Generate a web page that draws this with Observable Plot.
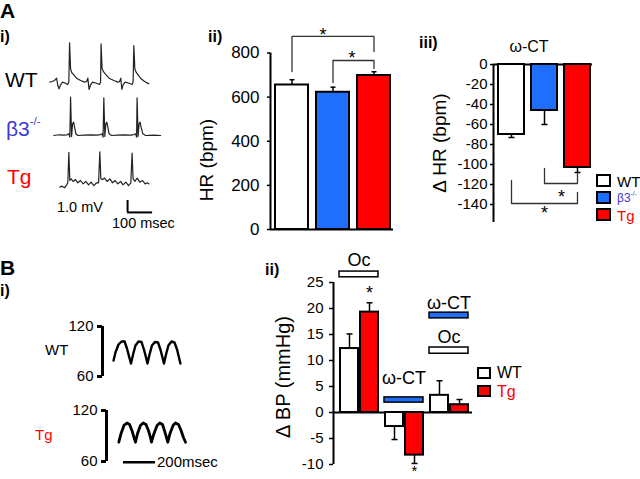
<!DOCTYPE html>
<html><head><meta charset="utf-8">
<script src="https://cdn.jsdelivr.net/npm/d3@7"></script>
<script src="https://cdn.jsdelivr.net/npm/@observablehq/plot@0.6"></script>
<style>
body{margin:0;background:#fff;}
#fig{position:relative;width:640px;height:479px;overflow:hidden;font-family:"Liberation Sans",Arial,Helvetica,sans-serif;color:#000;background:#fff;}
#fig svg{position:absolute;left:0;top:0;background:transparent !important;overflow:visible;}
.t{position:absolute;white-space:nowrap;line-height:1;}
.sw{position:absolute;box-sizing:border-box;border:2px solid #000;}
sup{font-size:0.55em;position:relative;top:-0.2em;vertical-align:top;}
</style></head>
<body><div id="fig"></div>
<script>
// ---------------- data ----------------
const genotypesA = ["WT", "β3-/-", "Tg"];
const hrMean = [655, 622, 698];
const hrErr = [24, 23, 17];
const hrTicks = [0, 200, 400, 600, 800];
const dhrMean = [-70, -46, -103];
const dhrErr = [3, 14, 5];
const dhrTicks = [0, -20, -40, -60, -80, -100, -120, -140];

const bpGroups = ["Oc", "ω-CT", "Oc+ω-CT"];
const genotypesB = ["WT", "Tg"];
const bpWT = [12.3, -2.7, 3.3];
const bpWTErr = [2.8, 2.5, 2.8];
const bpTg = [19.3, -8.2, 1.5];
const bpTgErr = [1.8, 1.6, 1.0];
const bpTicks = [-10, -5, 0, 5, 10, 15, 20, 25];
const pressureTicks = [60, 120];

// ECG traces [ms, mV]
const ecgWT = [[0,0.03],[9,0.08],[19,0.17],[27,0.36],[32,-0.25],[37,-0.53],[43,-0.19],[51,0.03],[63,-0.06],[71,-0.17],[76,0.03],[79,3.31],[83,1.14],[88,0.81],[96,0.64],[107,0.36],[123,0.17],[139,0.03],[147,0.08],[152,0.36],[157,-0.58],[163,-0.19],[171,0.03],[187,-0.06],[199,-0.17],[203,0.03],[205,3.22],[209,1.14],[216,0.86],[225,0.64],[237,0.36],[256,0.17],[272,0.03],[279,0.08],[284,0.36],[288,-0.58],[293,-0.19],[301,0.03],[317,-0.06],[329,-0.17],[333,0.03],[336,3.08],[340,1.14],[345,0.86],[353,0.64],[365,0.31],[379,0.08],[389,-0.03],[396,-0.11]];
const ecgB3 = [[0,0],[20,0.06],[40,0.03],[53,0.06],[60,0.14],[64,-0.14],[67,3.19],[71,-0.08],[75,0.97],[79,1.11],[83,0.69],[88,0.14],[96,0],[120,0.03],[147,0.06],[173,0.03],[187,0.08],[193,0.14],[197,-0.14],[200,3.14],[204,-0.08],[208,0.97],[212,1.11],[216,0.69],[221,0.14],[231,0],[253,0.03],[280,0.06],[307,0.03],[320,0.08],[327,0.14],[331,-0.14],[333,3.14],[337,-0.08],[341,0.97],[345,1.11],[349,0.69],[356,0.14],[367,0],[400,0.03],[427,0]];
const ecgTg = [[0,-0.19],[9,-0.11],[19,-0.25],[27,0],[32,0.17],[36,2.7],[40,0.36],[45,0.5],[53,0.28],[63,0.44],[72,0.17],[83,0.36],[93,0.08],[104,0.28],[115,0],[125,0.22],[136,-0.06],[147,0.17],[155,0.17],[160,2.75],[164,0.5],[171,0.44],[179,0.56],[189,0.28],[200,0.5],[211,0.17],[221,0.36],[232,0.08],[243,0.28],[253,0],[264,0.22],[275,-0.06],[284,0.17],[289,2.65],[293,0.5],[300,0.28],[309,0.56],[320,0.22],[331,0.36],[341,0.08],[349,0.17],[356,0.08]];
const ecgScaleBar = {t: 271, v: -2.3, ms: 100, mV: 1};

// Blood pressure traces [ms, mmHg]
const bpTraceWT = [[69,79.2],[81,88.8],[100,98.4],[119,102],[138,102],[153,93.6],[166,84],[178,75.6],[191,86.4],[206,97.2],[225,102],[244,101.4],[259,92.4],[272,82.8],[281,75.6],[294,86.4],[309,97.2],[328,101.4],[347,100.8],[362,92.4],[375,82.8],[384,75.6],[397,86.4],[412,97.2],[431,102],[450,100.8],[466,92.4],[478,82.8],[487,75.6]];
const bpTraceTg = [[77,82.7],[91,93],[109,102.4],[128,105.3],[144,103.5],[159,96.5],[172,88.2],[181,82.7],[194,93],[212,102.4],[229,105.3],[247,103.5],[262,96.5],[275,88.2],[281,82.7],[297,93],[316,102.4],[333,105.3],[350,103.5],[362,96.5],[375,88.2],[383,82.7],[397,93],[416,102.4],[431,105.3],[450,103.5],[466,96.5],[481,88.2],[494,82.7]];
const bpScaleBar = {t: 106, p: 59, ms: 200};

// significance annotations
const hrBrackets = [
  {from: "WT", to: "Tg", top: 875, footFrom: 716, footTo: 807},
  {from: "β3-/-", to: "Tg", top: 766, footFrom: 666, footTo: 730}
];
const hrStars = [{x: "β3-/-", y: 882}, {x: "Tg", y: 777}];
const dhrBrackets = [
  {from: "β3-/-", to: "Tg", top: -119, footFrom: -104, footTo: -109},
  {from: "WT", to: "Tg", top: -139, footFrom: -116, footTo: -128}
];
const dhrStars = [{x: "Tg", y: -132.5}, {x: "β3-/-", y: -148.5}];
const bpDrugLabels = [
  {grp: "Oc", text: "Oc", y: 29.2},
  {grp: "ω-CT", text: "ω-CT", y: 6.6},
  {grp: "Oc+ω-CT", text: "ω-CT", y: 21.0},
  {grp: "Oc+ω-CT", text: "Oc", y: 14.5}
];
const bpDrugBars = [
  {grp: "Oc", drug: "Oc", y1: 26.0, y2: 27.1},
  {grp: "ω-CT", drug: "ω-CT", y1: 1.9, y2: 2.9},
  {grp: "Oc+ω-CT", drug: "ω-CT", y1: 18.1, y2: 19.2},
  {grp: "Oc+ω-CT", drug: "Oc", y1: 11.3, y2: 12.5}
];
const bpStarUp = [{grp: "Oc", gen: "Tg", y: 23.0}];
const bpStarDown = [{grp: "ω-CT", gen: "Tg", y: -11.35}];

// ---------------- drawing ----------------
const blue = "#1f6fff", red = "#ff0000", labelBlue = "#3b3bd6";
const font = "'Liberation Sans', Arial, Helvetica, sans-serif";
const W = 640, H = 479;
const fig = document.getElementById("fig");
const cap = {draw(context, size) { const w = Math.sqrt(size / Math.PI); context.moveTo(-w, 0); context.lineTo(w, 0); }};
const hyphenFormat = d => String(d);

function frame(left, right, top, bottom) {
  return {width: W, height: H, marginLeft: left, marginRight: W - right, marginTop: top, marginBottom: H - bottom,
    style: {fontFamily: font, fontSize: "15px", background: "transparent", overflow: "visible", color: "#000"}};
}
function add(p) { fig.appendChild(p); }

function axisPlot({left, right, top, bottom, domain, ticks, fontSize, tickSize, tickPadding}) {
  return Plot.plot({...frame(left, right, top, bottom),
    x: {domain: [0, 1], axis: null},
    y: {domain},
    marks: [
      Plot.axisY(ticks, {anchor: "left", tickSize, tickPadding, fontSize, label: null, strokeWidth: 1.5, tickFormat: hyphenFormat}),
      Plot.ruleX([0], {y1: domain[0], y2: domain[1], strokeWidth: 2}),
      Plot.ruleY([0], {strokeWidth: 2})
    ]});
}

// ---- A i: ECG traces ----
function ecgPlot(data, left, right, top, bottom, xDomain, yDomain, extra = []) {
  return Plot.plot({...frame(left, right, top, bottom),
    x: {domain: xDomain, axis: null}, y: {domain: yDomain, axis: null},
    marks: [Plot.line(data, {x: d => d[0], y: d => d[1], stroke: "#222", strokeWidth: 1.2}), ...extra]});
}
add(ecgPlot(ecgWT, 49.33, 149.33, 34, 94, [0, 400], [-1, 4]));
add(ecgPlot(ecgB3, 53.33, 160.83, 87, 147, [0, 430], [-1, 4]));
add(ecgPlot(ecgTg, 59.33, 159.33, 136.33, 220.33, [0, 400], [-3, 4], [
  Plot.ruleX([ecgScaleBar], {x: "t", y1: d => d.v, y2: d => d.v + d.mV, strokeWidth: 2}),
  Plot.ruleY([ecgScaleBar], {y: "v", x1: d => d.t, x2: d => d.t + d.ms, strokeWidth: 2})
]));

// ---- A ii: HR bars ----
const hrData = genotypesA.map((g, i) => ({g, v: hrMean[i], e: hrMean[i] + hrErr[i]}));
const hrBracketPts = hrBrackets.flatMap((b, id) => [
  {id, x: b.from, y: b.footFrom}, {id, x: b.from, y: b.top}, {id, x: b.to, y: b.top}, {id, x: b.to, y: b.footTo}]);
add(axisPlot({left: 270, right: 393, top: 52.5, bottom: 229, domain: [0, 800], ticks: hrTicks, fontSize: 17, tickSize: 3, tickPadding: 8}));
add(Plot.plot({...frame(270, 396, 52.5, 229),
  x: {domain: genotypesA, paddingInner: 0.195, paddingOuter: 0.12, axis: null},
  y: {domain: [0, 800], axis: null},
  color: {domain: genotypesA, range: ["#ffffff", blue, red]},
  marks: [
    Plot.ruleX(hrData, {x: "g", y1: "v", y2: "e", strokeWidth: 1.5}),
    Plot.dot(hrData, {x: "g", y: "e", symbol: cap, r: 2.5, stroke: "#000", fill: "none", strokeWidth: 1.5}),
    Plot.barY(hrData, {x: "g", y: "v", fill: "g", stroke: "#000", strokeWidth: 2}),
    Plot.line(hrBracketPts, {x: "x", y: "y", z: "id", stroke: "#333", strokeWidth: 1.3}),
    Plot.text([hrStars[0]], {x: "x", y: "y", text: () => "*", fontSize: 18, dx: -10}),
    Plot.text([hrStars[1]], {x: "x", y: "y", text: () => "*", fontSize: 18, dx: -22})
  ]}));

// ---- A iii: delta HR bars ----
const dhrData = genotypesA.map((g, i) => ({g, v: dhrMean[i], e: dhrMean[i] - dhrErr[i]}));
const dhrBracketPts = dhrBrackets.flatMap((b, id) => [
  {id, x: b.from, y: b.footFrom}, {id, x: b.from, y: b.top}, {id, x: b.to, y: b.top}, {id, x: b.to, y: b.footTo}]);
add(axisPlot({left: 493, right: 592, top: 64, bottom: 222, domain: [-158, 0], ticks: dhrTicks, fontSize: 15, tickSize: 3, tickPadding: 3}));
add(Plot.plot({...frame(493, 594, 64, 222),
  x: {domain: genotypesA, paddingInner: 0.22, paddingOuter: 0.12, axis: null},
  y: {domain: [-158, 0], axis: null},
  color: {domain: genotypesA, range: ["#ffffff", blue, red]},
  marks: [
    Plot.ruleX(dhrData, {x: "g", y1: "v", y2: "e", strokeWidth: 1.5}),
    Plot.dot(dhrData, {x: "g", y: "e", symbol: cap, r: 3, stroke: "#000", fill: "none", strokeWidth: 1.5}),
    Plot.barY(dhrData, {x: "g", y: "v", fill: "g", stroke: "#000", strokeWidth: 2}),
    Plot.line(dhrBracketPts, {x: "x", y: "y", z: "id", stroke: "#333", strokeWidth: 1.3}),
    Plot.text([dhrStars[0]], {x: "x", y: "y", text: () => "*", fontSize: 18, dx: -16}),
    Plot.text([dhrStars[1]], {x: "x", y: "y", text: () => "*", fontSize: 18})
  ]}));

// ---- B i: BP traces ----
function bpPlot(data, left, top, bottom, sw, extra = []) {
  return Plot.plot({...frame(left, left + 80, top, bottom),
    x: {domain: [0, 500], axis: null}, y: {domain: [60, 120]},
    marks: [
      Plot.axisY(pressureTicks, {anchor: "left", tickSize: 5, tickPadding: 4, fontSize: 15, strokeWidth: 3, label: null}),
      Plot.ruleX([0], {y1: 60, y2: 120, strokeWidth: 3}),
      Plot.line(data, {x: d => d[0], y: d => d[1], stroke: "#000", strokeWidth: sw, strokeLinejoin: "round"}),
      ...extra]});
}
add(bpPlot(bpTraceWT, 102, 326, 376, 2.4));
add(bpPlot(bpTraceTg, 106, 410, 461, 2.8, [
  Plot.ruleY([bpScaleBar], {y: "p", x1: d => d.t, x2: d => d.t + d.ms, strokeWidth: 2.5})
]));

// ---- B ii: delta BP grouped bars ----
const bpData = bpGroups.flatMap((grp, i) => [
  {grp, gen: "WT", v: bpWT[i], e: bpWT[i] + Math.sign(bpWT[i]) * bpWTErr[i]},
  {grp, gen: "Tg", v: bpTg[i], e: bpTg[i] + Math.sign(bpTg[i]) * bpTgErr[i]}]);
add(axisPlot({left: 333, right: 472, top: 282, bottom: 464, domain: [-10, 25], ticks: bpTicks, fontSize: 15, tickSize: 4, tickPadding: 6}));
add(Plot.plot({...frame(337, 469, 282, 464),
  fx: {domain: bpGroups, paddingInner: 0.1, paddingOuter: 0, axis: null, label: null},
  x: {domain: genotypesB, paddingInner: 0.12, paddingOuter: 0.04, axis: null},
  y: {domain: [-10, 25], axis: null},
  color: {domain: genotypesB, range: ["#ffffff", red]},
  marks: [
    Plot.ruleX(bpData, {fx: "grp", x: "gen", y1: "v", y2: "e", strokeWidth: 1.5}),
    Plot.dot(bpData, {fx: "grp", x: "gen", y: "e", symbol: cap, r: 3, stroke: "#000", fill: "none", strokeWidth: 1.5}),
    Plot.barY(bpData, {fx: "grp", x: "gen", y: "v", fill: "gen", stroke: "#000", strokeWidth: 2}),
    Plot.rect(bpDrugBars.filter(d => d.drug === "Oc"), {fx: "grp", y1: "y1", y2: "y2", fill: "#fff", stroke: "#000", strokeWidth: 1.5, insetLeft: 1, insetRight: 1}),
    Plot.rect(bpDrugBars.filter(d => d.drug === "ω-CT"), {fx: "grp", y1: "y1", y2: "y2", fill: blue, stroke: "#000", strokeWidth: 1.5, insetLeft: 1, insetRight: 1}),
    Plot.text(bpDrugLabels, {fx: "grp", y: "y", text: "text", fontSize: 18}),
    Plot.text(bpStarUp, {fx: "grp", x: "gen", y: "y", text: () => "*", fontSize: 18}),
    Plot.text(bpStarDown, {fx: "grp", x: "gen", y: "y", text: () => "*", fontSize: 15})
  ]}));

// ---------------- text labels (HTML) ----------------
function label(html, x, y, o = {}) {
  const d = document.createElement("div");
  d.className = "t";
  d.innerHTML = html;
  Object.assign(d.style, {left: x + "px", top: y + "px", fontSize: (o.size || 15) + "px",
    color: o.color || "#000", fontWeight: o.bold ? "bold" : "normal",
    transform: o.rot ? "translate(-50%,-50%) rotate(-90deg)" : (o.mid ? "translate(-50%,-50%)" : "translate(0,-50%)")});
  fig.appendChild(d);
}
function swatch(x, y, w, h, color) {
  const d = document.createElement("div");
  d.className = "sw";
  Object.assign(d.style, {left: x + "px", top: y + "px", width: w + "px", height: h + "px", background: color});
  fig.appendChild(d);
}

label("A", 0, 10, {size: 21, bold: true});
label("i)", 0, 37, {size: 16, bold: true});
label("WT", 5, 79, {size: 21});
label("β3<sup>-/-</sup>", 6, 128, {size: 21, color: labelBlue});
label("Tg", 7, 176, {size: 21, color: red});
label("1.0 mV", 57, 207, {size: 14.5});
label("100 msec", 112, 223, {size: 14.5});
label("ii)", 208, 37, {size: 16, bold: true});
label("HR (bpm)", 206, 160, {size: 19, rot: true});
label("iii)", 419, 43, {size: 16, bold: true});
label("ω-CT", 529, 47, {size: 16, mid: true});
label("Δ HR (bpm)", 439, 143, {size: 19, rot: true});
swatch(596, 174, 15, 13, "#fff");
swatch(596, 191, 15, 13, blue);
swatch(596, 208, 15, 13, red);
label("WT", 617, 181, {size: 15});
label("β3<sup>-/-</sup>", 617, 198, {size: 12, color: labelBlue});
label("Tg", 617, 215, {size: 15, color: red});

label("B", 0, 267, {size: 21, bold: true});
label("i)", 0, 291, {size: 16, bold: true});
label("WT", 45, 349, {size: 15});
label("Tg", 35, 434, {size: 15, color: red});
label("200msec", 157, 461, {size: 15});
label("ii)", 265, 270, {size: 16, bold: true});
label("Δ BP (mmHg)", 283, 377, {size: 20, rot: true});
swatch(477, 367, 14, 12, "#fff");
swatch(477, 385, 14, 12, red);
label("WT", 497, 373, {size: 16});
label("Tg", 497, 392, {size: 16, color: red});
</script>
</body></html>
